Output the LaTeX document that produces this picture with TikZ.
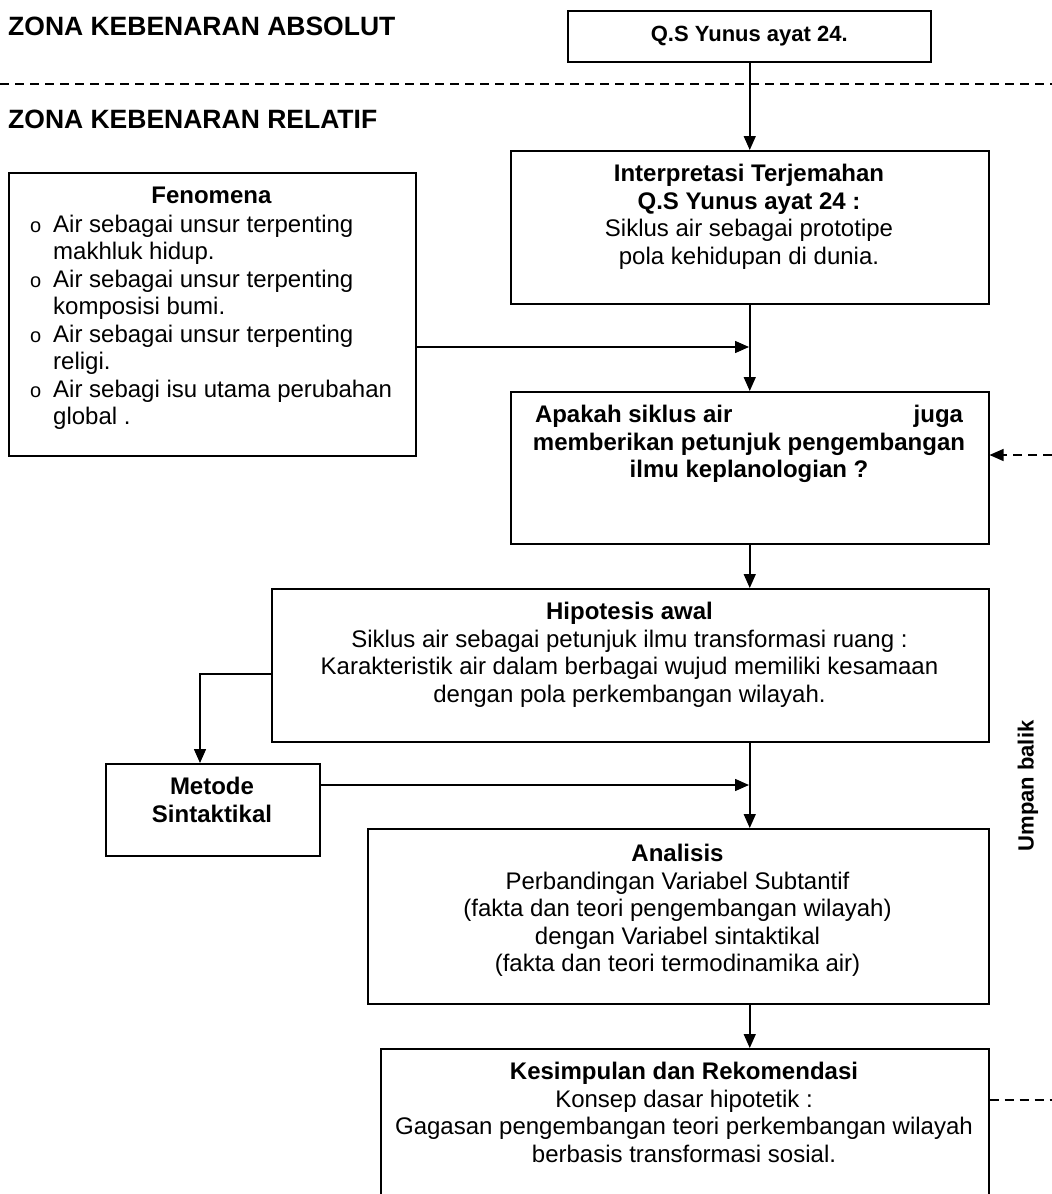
\documentclass[tikz,border=0pt]{standalone}
\usepackage{fontspec}
\setmainfont{Liberation Sans}
\usetikzlibrary{arrows.meta}
\begin{document}
\begin{tikzpicture}[x=1pt,y=-1pt,
  box/.style={draw, line width=1.5pt, rectangle, anchor=north west, inner sep=0pt},
  txt/.style={anchor=north, inner sep=0pt, align=center, font=\fontsize{24}{27.5}\selectfont},
  ttl/.style={anchor=base west, inner sep=0pt, font=\fontsize{26.5}{30}\selectfont\bfseries},
  arr/.style={line width=1.5pt, -{Triangle[length=14pt,width=12pt]}},
  fbline/.style={line width=1.2pt, dash pattern=on 9pt off 6pt}
]
\useasboundingbox (0,0) rectangle (1052,1194);
\clip (0,0) rectangle (1052,1194);
\fill[white] (0,0) rectangle (1052,1194);

% titles and zone line
\node[ttl] (tabs) at (8,35) {ZONA KEBENARAN ABSOLUT};
\node[ttl] (trel) at (8,128) {ZONA KEBENARAN RELATIF};
\coordinate (zl) at (0,84);
\coordinate (zr) at (1052,84);
\draw[fbline] (zl) -- (zr);

% boxes
\node[box, minimum width=363pt, minimum height=51pt] (qs) at (567,10) {};
\node[anchor=center, inner sep=0pt, font=\fontsize{22}{26}\selectfont\bfseries] (qst) at (qs.center) {Q.S Yunus ayat 24.};

\node[box, minimum width=478pt, minimum height=153pt] (interp) at (510,150) {};
\node[txt] (interpt) at (749,164) {\textbf{Interpretasi Terjemahan}\\ \textbf{Q.S Yunus ayat 24 :}\\ Siklus air sebagai prototipe\\ pola kehidupan di dunia.};

\node[box, minimum width=407pt, minimum height=283pt] (fen) at (8,172) {};
\node[txt] (fenh) at (211.5,187) {\textbf{Fenomena}};
\node[anchor=north west, inner sep=0pt, align=left, font=\fontsize{24}{27.5}\selectfont] (fenl) at (30,214.5)
{\makebox[23pt][l]{\fontsize{20}{20}\selectfont o}Air sebagai unsur terpenting\\
\hspace*{23pt}makhluk hidup.\\
\makebox[23pt][l]{\fontsize{20}{20}\selectfont o}Air sebagai unsur terpenting\\
\hspace*{23pt}komposisi bumi.\\
\makebox[23pt][l]{\fontsize{20}{20}\selectfont o}Air sebagai unsur terpenting\\
\hspace*{23pt}religi.\\
\makebox[23pt][l]{\fontsize{20}{20}\selectfont o}Air sebagi isu utama perubahan\\
\hspace*{23pt}global .};

\node[box, minimum width=478pt, minimum height=152pt] (apakah) at (510,391) {};
\node[txt] (apakaht) at (749,405) {\bfseries\makebox[428pt]{Apakah siklus air\hfill juga}\\ \bfseries memberikan petunjuk pengembangan\\ \bfseries ilmu keplanologian ?};

\node[box, minimum width=717pt, minimum height=153pt] (hip) at (271,588) {};
\node[txt] (hipt) at (629.5,602) {\textbf{Hipotesis awal}\\ Siklus air sebagai petunjuk ilmu transformasi ruang :\\ Karakteristik air dalam berbagai wujud memiliki kesamaan\\ dengan pola perkembangan wilayah.};

\node[box, minimum width=214pt, minimum height=92pt] (met) at (105,763) {};
\node[txt] (mett) at (212,777) {\textbf{Metode}\\ \textbf{Sintaktikal}};

\node[box, minimum width=621pt, minimum height=175pt] (ana) at (367,828) {};
\node[txt] (anat) at (677.5,844) {\textbf{Analisis}\\ Perbandingan Variabel Subtantif\\ (fakta dan teori pengembangan wilayah)\\ dengan Variabel sintaktikal\\ (fakta dan teori termodinamika air)};

\node[box, minimum width=608pt, minimum height=180pt] (kes) at (380,1048) {};
\node[txt] (kest) at (684,1062) {\textbf{Kesimpulan dan Rekomendasi}\\ Konsep dasar hipotetik :\\ Gagasan pengembangan teori perkembangan wilayah\\ berbasis transformasi sosial.};

\node[rotate=90, inner sep=0pt, font=\fontsize{22}{26}\selectfont\bfseries] (ub) at (1028,786) {Umpan balik};

% connectors
\draw[arr] (qs.south -| apakah.north) -- (interp.north);
\draw[arr] (interp.south) -- (apakah.north);
\coordinate (j1) at (749,347);
\draw[arr] (fen.east |- j1) -- (j1);
\draw[arr] (apakah.south) -- (apakah.south |- hip.north);
\coordinate (j2) at (200,674);
\draw[arr] (hip.west |- j2) -- (j2) -- (j2 |- met.north);
\coordinate (j3) at (749,785);
\draw[arr] (met.east |- j3) -- (j3);
\draw[arr] (apakah.south |- hip.south) -- (apakah.south |- ana.north);
\draw[arr] (apakah.south |- ana.south) -- (apakah.south |- kes.north);
\coordinate (fb1) at (1052,1100);
\draw[fbline] (kes.east |- fb1) -- (fb1);
\coordinate (fb2) at (1052,455);
\draw[fbline, -{Triangle[length=14pt,width=12pt]}] (fb2) -- (apakah.east |- fb2);
\end{tikzpicture}
\end{document}
